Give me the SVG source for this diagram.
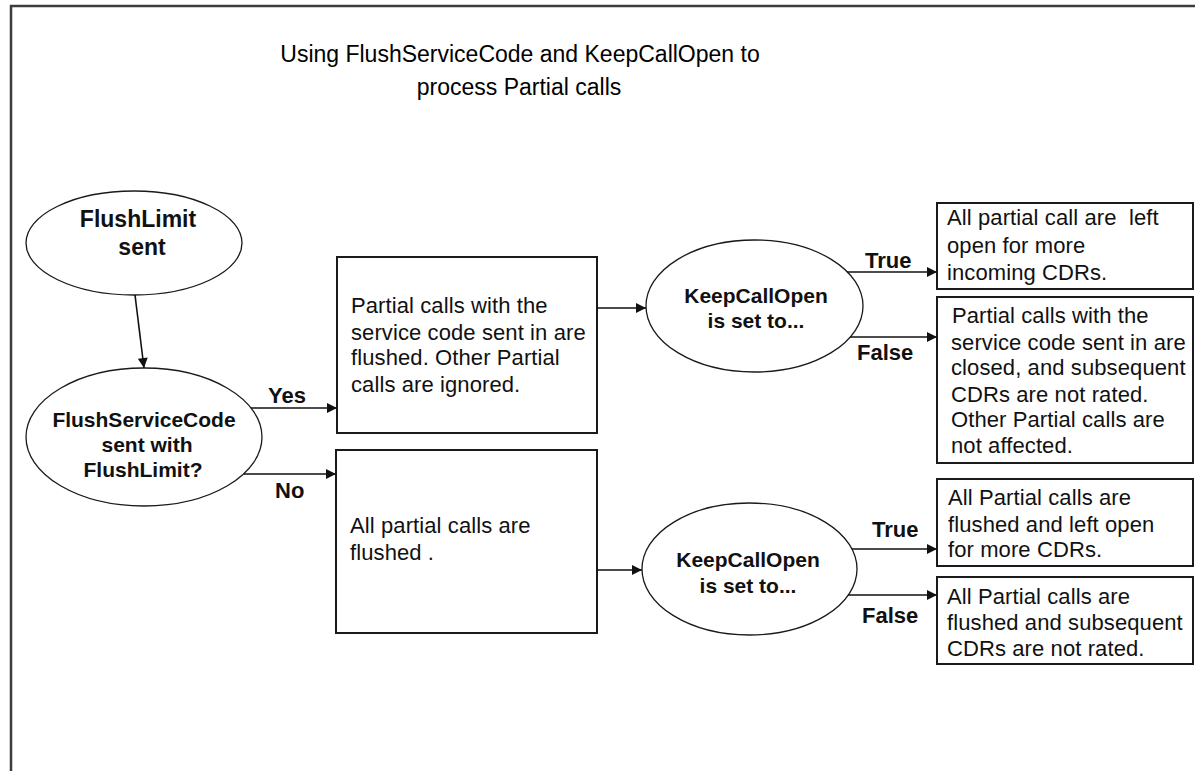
<svg xmlns="http://www.w3.org/2000/svg" width="1195" height="771" viewBox="0 0 1195 771">
<style>
.frame{fill:none;stroke:#3c3c3c;stroke-width:2.5}
.box{fill:#fff;stroke:#1a1a1a;stroke-width:2}
.ell{fill:#fff;stroke:#1a1a1a;stroke-width:1.3}
.t{font-family:"Liberation Sans",Arial,sans-serif;font-size:22px;fill:#111;letter-spacing:0.1px}
.b{font-family:"Liberation Sans",Arial,sans-serif;font-weight:bold;font-size:21px;fill:#111;text-anchor:middle}
.lbl{font-family:"Liberation Sans",Arial,sans-serif;font-weight:bold;font-size:22px;fill:#111}
.title{font-family:"Liberation Sans",Arial,sans-serif;font-size:23px;fill:#000;text-anchor:middle}
.c{fill:none;stroke:#111;stroke-width:1.6}
</style>
<defs>
<marker id="ah" viewBox="0 0 10 10" refX="10" refY="5" markerWidth="11" markerHeight="10" markerUnits="userSpaceOnUse" orient="auto">
<path d="M0,0 L10,5 L0,10 z" fill="#111"/>
</marker>
</defs>
<rect width="1195" height="771" fill="#fff"/>
<rect class="frame" x="11" y="6" width="1220" height="800"/>
<g id="title">
<text class="title" x="520" y="62">Using FlushServiceCode and KeepCallOpen to</text>
<text class="title" x="519" y="95">process Partial calls</text>
</g>
<g id="flushlimit-sent">
<ellipse class="ell" cx="134" cy="243" rx="108" ry="52"/>
<text class="b" x="138" y="227" style="font-size:23px">FlushLimit</text>
<text class="b" x="142" y="255" style="font-size:23px">sent</text>
</g>
<g id="flushservicecode-decision">
<ellipse class="ell" cx="144" cy="437" rx="118" ry="69"/>
<text class="b" x="144" y="427">FlushServiceCode</text>
<text class="b" x="147" y="452">sent with</text>
<text class="b" x="143" y="477">FlushLimit?</text>
</g>
<g id="box-yes">
<rect class="box" x="337" y="257" width="260" height="176"/>
<text class="t" x="351" y="313">Partial calls with the</text>
<text class="t" x="351" y="340">service code sent in are</text>
<text class="t" x="351" y="365">flushed. Other Partial</text>
<text class="t" x="351" y="392">calls are ignored.</text>
</g>
<g id="box-no">
<rect class="box" x="336" y="450" width="261" height="183"/>
<text class="t" x="350" y="533">All partial calls are</text>
<text class="t" x="350" y="560">flushed .</text>
</g>
<g id="keepcallopen-1">
<ellipse class="ell" cx="754.5" cy="306" rx="108.5" ry="66"/>
<text class="b" x="756" y="303">KeepCallOpen</text>
<text class="b" x="756" y="328">is set to...</text>
</g>
<g id="keepcallopen-2">
<ellipse class="ell" cx="749.5" cy="569" rx="107.5" ry="66"/>
<text class="b" x="748" y="567">KeepCallOpen</text>
<text class="b" x="748" y="593">is set to...</text>
</g>
<g id="box-a">
<rect class="box" x="937" y="203" width="256" height="86"/>
<text class="t" x="947" y="225" xml:space="preserve">All partial call are  left</text>
<text class="t" x="947" y="253">open for more</text>
<text class="t" x="947" y="280">incoming CDRs.</text>
</g>
<g id="box-b">
<rect class="box" x="937" y="297" width="256" height="166"/>
<text class="t" x="952" y="323">Partial calls with the</text>
<text class="t" x="951" y="350">service code sent in are</text>
<text class="t" x="951" y="375">closed, and subsequent</text>
<text class="t" x="951" y="402">CDRs are not rated.</text>
<text class="t" x="951" y="427">Other Partial calls are</text>
<text class="t" x="951" y="453">not affected.</text>
</g>
<g id="box-c">
<rect class="box" x="937" y="479" width="256" height="87"/>
<text class="t" x="948" y="505">All Partial calls are</text>
<text class="t" x="948" y="532">flushed and left open</text>
<text class="t" x="948" y="557">for more CDRs.</text>
</g>
<g id="box-d">
<rect class="box" x="937" y="577" width="256" height="87"/>
<text class="t" x="947" y="604">All Partial calls are</text>
<text class="t" x="947" y="630">flushed and subsequent</text>
<text class="t" x="947" y="656">CDRs are not rated.</text>
</g>
<g id="connectors">
<line class="c" x1="135" y1="295" x2="144" y2="368" marker-end="url(#ah)"/>
<line class="c" x1="251" y1="408" x2="337" y2="408" marker-end="url(#ah)"/>
<line class="c" x1="244" y1="474" x2="336" y2="474" marker-end="url(#ah)"/>
<line class="c" x1="597" y1="308" x2="646" y2="308" marker-end="url(#ah)"/>
<line class="c" x1="597" y1="570" x2="642" y2="570" marker-end="url(#ah)"/>
<line class="c" x1="847" y1="272" x2="937" y2="272" marker-end="url(#ah)"/>
<line class="c" x1="850" y1="337" x2="937" y2="337" marker-end="url(#ah)"/>
<line class="c" x1="852" y1="549" x2="937" y2="549" marker-end="url(#ah)"/>
<line class="c" x1="848" y1="595" x2="937" y2="595" marker-end="url(#ah)"/>
<text class="lbl" x="268" y="403">Yes</text>
<text class="lbl" x="275" y="498">No</text>
<text class="lbl" x="865" y="268">True</text>
<text class="lbl" x="857" y="360">False</text>
<text class="lbl" x="872" y="537">True</text>
<text class="lbl" x="862" y="623">False</text>
</g>
</svg>
